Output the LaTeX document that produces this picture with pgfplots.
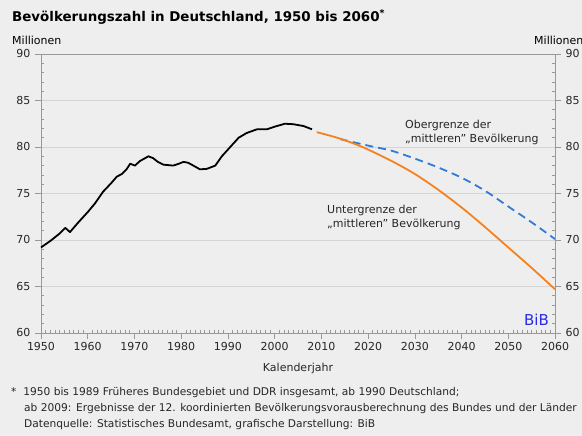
\documentclass[border=0pt]{standalone}
\usepackage{fontspec}
\setmainfont{DejaVu Sans}
\usepackage{pgfplots}
\pgfplotsset{compat=1.18}
\definecolor{bg}{HTML}{EEEEEE}
\definecolor{gridc}{HTML}{D4D4D4}
\definecolor{axc}{HTML}{999999}
\definecolor{orangeL}{HTML}{F5821F}
\definecolor{blueL}{HTML}{2F7BD6}
\definecolor{bibblue}{HTML}{2A2AE6}
\newcommand{\fs}[1]{\fontsize{#1bp}{#1bp}\selectfont}
\begin{document}
\begin{tikzpicture}[x=1bp,y=1bp]
\clip (0,0) rectangle (582,436);
\fill[bg] (0,0) rectangle (582,436);
\node[anchor=base west, inner sep=0, font=\fs{13.4}\bfseries] at (12,414) {Bevölkerungszahl in Deutschland, 1950 bis 2060\textsuperscript{*}};
\node[anchor=base west, inner sep=0, font=\fs{11}] at (12,391) {Millionen};
\node[anchor=base west, inner sep=0, font=\fs{11}] at (534,391) {Millionen};
\begin{axis}[
  at={(41bp,103bp)}, anchor=south west,
  scale only axis, width=514bp, height=279bp,
  xmin=1950, xmax=2060, ymin=60, ymax=90,
  axis line style={axc, line width=0.8bp},
  xtick={1950,1960,...,2060}, minor x tick num=9,
  ytick={60,65,...,90}, minor y tick num=4,
  xtick pos=bottom, ytick pos=left,
  tick align=outside,
  major tick length=6bp, minor tick length=3bp,
  every tick/.style={axc, line width=0.6bp},
  minor x tick style={yshift=3bp},
  minor y tick style={xshift=3bp},
  ymajorgrids, grid style={gridc, line width=0.8bp},
  tick label style={font=\fs{11}, text=black!85},
  /pgf/number format/assume math mode=true,
  xticklabel style={/pgf/number format/1000 sep={}},
  yticklabel style={xshift=-1bp},
  clip=false,
]
\addplot[black, line width=1.8bp, line join=round] coordinates {
(1950,69.2) (1952,69.9) (1954,70.7) (1955.2,71.3) (1956.2,70.85) (1958,71.9) (1960,73.0) (1961.5,73.9) (1963.3,75.2) (1965,76.1) (1966.2,76.8) (1967.3,77.1) (1968.3,77.6) (1969.1,78.2) (1970.1,78.0) (1971.2,78.5) (1973,79.0) (1974,78.8) (1975,78.4) (1976.2,78.1) (1978.3,78.0) (1979.5,78.2) (1980.5,78.4) (1981.5,78.3) (1982.6,78.0) (1984,77.6) (1985.5,77.65) (1987.3,78.0) (1988.7,79.0) (1990.5,80.0) (1992.3,81.0) (1994,81.5) (1996.2,81.9) (1998.3,81.9) (2000.1,82.2) (2002.2,82.5) (2004,82.45) (2006.2,82.25) (2008,81.9)
};
\addplot[blueL, line width=1.8bp, dash pattern=on 8bp off 5bp, smooth] coordinates {
(2014,80.85) (2020,80.15) (2025,79.6) (2030,78.75) (2035,77.8) (2040,76.7) (2045,75.3) (2050,73.6) (2055,71.9) (2060,70.1)
};
\addplot[orangeL, line width=1.8bp, smooth] coordinates {
(2009,81.6) (2014,80.9) (2019,79.95) (2025,78.5) (2030,77.1) (2035,75.4) (2040,73.5) (2045,71.4) (2050,69.2) (2055,67.0) (2060,64.7)
};
\end{axis}
\begin{axis}[
  at={(41bp,103bp)}, anchor=south west,
  scale only axis, width=514bp, height=279bp,
  xmin=1950, xmax=2060, ymin=60, ymax=90,
  axis x line=none, axis y line*=right,
  axis line style={axc, line width=0.8bp},
  ytick={60,65,...,90}, minor y tick num=4,
  tick align=outside,
  major tick length=6bp, minor tick length=3bp,
  every tick/.style={axc, line width=0.6bp},
  minor y tick style={xshift=-3bp},
  tick label style={font=\fs{11}, text=black!85},
  /pgf/number format/assume math mode=true,
  yticklabel style={xshift=1bp},
]
\addplot[draw=none] coordinates {(1950,60)};
\end{axis}
\node[font=\fs{11}, text=black!85] at (298,68) {Kalenderjahr};
\node[anchor=base east, font=\fs{15}, text=bibblue, inner sep=0] at (549,110) {BiB};
\node[anchor=base west, font=\fontsize{11bp}{14bp}\selectfont, text=black!85, inner sep=0, align=left] at (405,293) {Obergrenze der\\„mittleren” Bevölkerung};
\node[anchor=base west, font=\fontsize{11bp}{14bp}\selectfont, text=black!85, inner sep=0, align=left] at (327,208) {Untergrenze der\\„mittleren” Bevölkerung};
\node[anchor=base west, font=\fs{10.65}, text=black!85, inner sep=0] at (11,40) {*\ \ 1950 bis 1989 Früheres Bundesgebiet und DDR insgesamt, ab 1990 Deutschland;};
\node[anchor=base west, font=\fs{10.65}, text=black!85, inner sep=0] at (24,24) {ab 2009: Ergebnisse der 12. koordinierten Bevölkerungsvorausberechnung des Bundes und der Länder};
\node[anchor=base west, font=\fs{10.65}, text=black!85, inner sep=0] at (24,8) {Datenquelle: Statistisches Bundesamt, grafische Darstellung: BiB};
\end{tikzpicture}
\end{document}
